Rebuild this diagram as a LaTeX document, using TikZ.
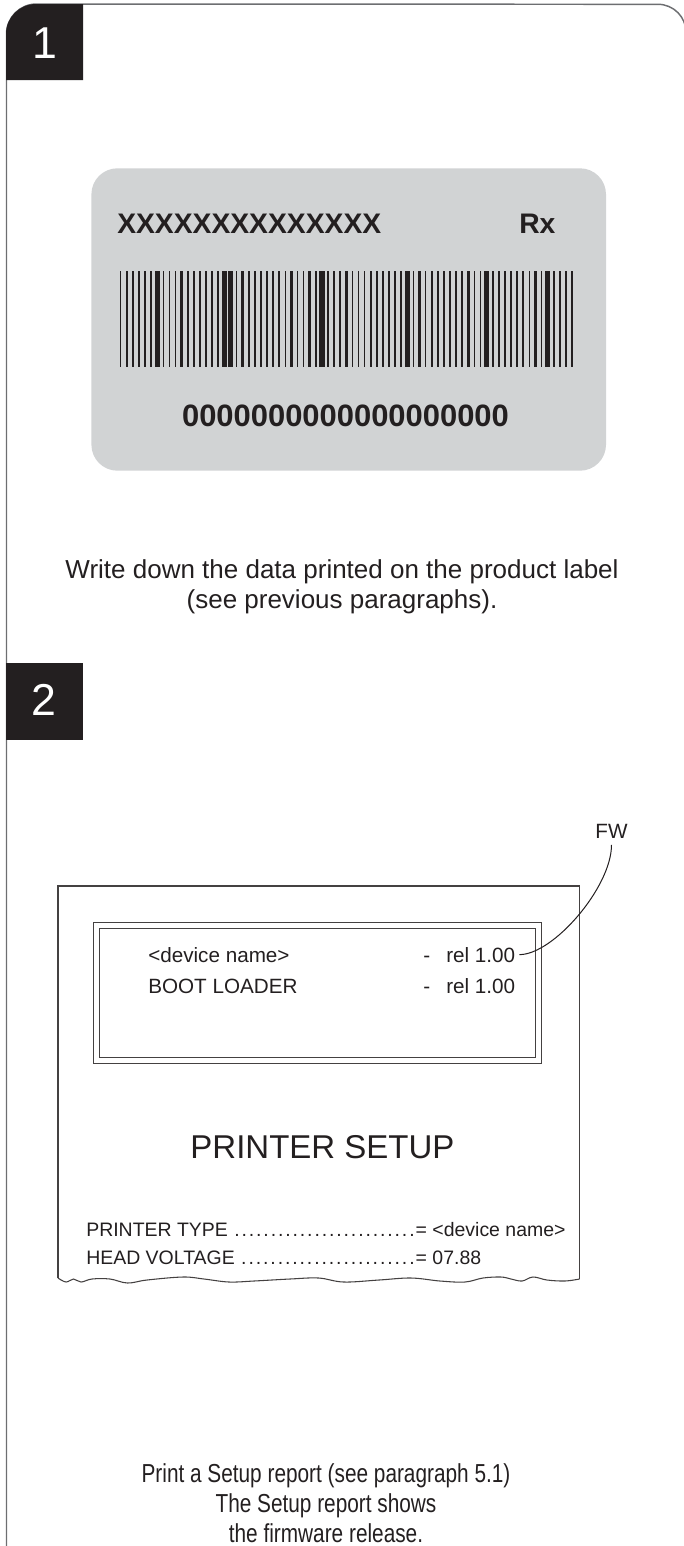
\documentclass[tikz,border=0pt]{standalone}
\usepackage{fontspec}
\setmainfont{Liberation Sans}
\newfontfamily\narrowsans[FakeStretch=0.8]{Liberation Sans}
\usetikzlibrary{positioning}

\definecolor{inkdark}{HTML}{231F20}
\definecolor{labelgray}{HTML}{D1D3D4}
\definecolor{framegray}{HTML}{6D6E71}

\newcommand{\dotlead}{\xleaders\hbox to 0.37em{\hss.\hss}\hfill}
\newcommand{\setuprow}[2]{\makebox[247pt][l]{#1 \dotlead}= #2}

\begin{document}
\begin{tikzpicture}[x=0.75pt, y=-0.75pt,
    badge/.style={fill=inkdark},
    num/.style={text=white, inner sep=0pt, font=\fontsize{33.5}{36}\selectfont},
    crd/.style={text=inkdark, inner sep=0pt, font=\bfseries\fontsize{21.2}{24}\selectfont},
    crdnum/.style={text=inkdark, inner sep=0pt, font=\bfseries\fontsize{23.2}{26}\selectfont},
    txt/.style={text=inkdark, inner sep=0pt, align=center, font=\fontsize{19.5}{22.5}\selectfont},
    rep/.style={text=inkdark, inner sep=0pt, font=\fontsize{15.5}{18}\selectfont},
    row/.style={text=inkdark, inner sep=0pt, font=\fontsize{14.6}{17}\selectfont},
    sheet/.style={draw=inkdark!85, line width=0.8pt},
    lead/.style={draw=inkdark, line width=0.75pt}
]
\useasboundingbox (0,0) rectangle (684,1546);

% outer frame, runs off the page on the right and at the bottom
\begin{scope}
\clip (0,0) rectangle (684,1546);
\draw[draw=framegray, line width=1.1pt] (6.5,1600) -- (6.5,34) arc[start angle=180, end angle=270, radius=30]
    -- (658,4.3) arc[start angle=270, end angle=360, radius=28] -- (686,1600);
\end{scope}

% step badges
\fill[badge] (6,80) -- (6,34) arc[start angle=180, end angle=270, radius=30] -- (83,4) -- (83,80) -- cycle;
\node[num] (numone) at (45,43) {1};
\fill[badge] (6,663) rectangle (83,740);
\node[num] (numtwo) at (43.5,699.5) {2};

% product label
\fill[labelgray, rounded corners=19.5pt] (91.4,168.3) rectangle (606,470.7);
\node[crd, anchor=base west] (serial) at (117,233.3) {XXXXXXXXXXXXXX};
\node[crd, anchor=base west] (rev) at (519,233.3) {Rx};
\foreach \w [count=\i from 0] in {1,1,1,1,1,2,3,1,1,1,2,1,1,1,1,
                                  2,1,3,3,1,2,1,1,1,2,1,1,1,2,1,
                                  1,2,1,3,1,1,1,2,1,1,1,1,2,1,1,
                                  2,1,3,1,2,1,1,1,2,1,1,1,2,1,1,
                                  3,1,1,2,1,1,1,1,2,1,3,1,2,1,1} {
    \pgfmathsetmacro{\bw}{\w==3 ? 5.4 : (\w==2 ? 2.6 : 1.6)}
    \fill[inkdark] (120.6+\i*6.1-\bw/2,271) rectangle ++(\bw,95.7);
}
\node[crdnum, anchor=base] (code) at (345.5,426.7) {0000000000000000000};

\node[txt, anchor=north] (noteone) at (342,559) {Write down the data printed on the product label\\(see previous paragraphs).};

% setup report sheet
\draw[sheet] (58,1278) -- (58,886) -- (579.5,886) -- (579.5,1279);
\draw[sheet] plot[smooth, tension=0.6] coordinates {(58,1278) (66,1282) (73.5,1279) (81,1282)
    (92,1279) (110,1279) (127.5,1283) (147,1280) (183,1277) (204,1279) (229,1282) (254,1281)
    (290,1279) (318.6,1278) (343.6,1282) (379,1280) (411,1278) (440,1281) (465,1282) (483,1278)
    (501,1277) (511,1279) (522,1281) (533,1277) (547,1280) (565,1281) (579.5,1279)};
\draw[sheet, line width=0.6pt] (93,922.5) rectangle (541.5,1063);
\draw[sheet, line width=0.6pt] (99,928.5) rectangle (535.5,1057);

\node[rep, anchor=base west] (devname) at (148,962) {<device name>};
\node[rep, anchor=base west] (dashone) at (423,962) {-};
\node[rep, anchor=base west] (relfw) at (446,962) {rel 1.00};
\node[rep, anchor=base west] (bootldr) at (148,993) {BOOT LOADER};
\node[rep, anchor=base west] (dashtwo) at (423,993) {-};
\node[rep, anchor=base west] (relboot) at (446,993) {rel 1.00};

\node[rep, inner sep=5pt, anchor=base] (fwtag) at (611.5,838) {FW};
\draw[lead, shorten <=3pt] (relfw.east) .. controls +(38,0) and +(0,42) .. (fwtag.south);

\node[text=inkdark, inner sep=0pt, anchor=base, font=\fontsize{24.75}{28}\selectfont] (setuphead) at (322.5,1158) {PRINTER SETUP};
\node[row, anchor=base west] (ptype) at (86,1236.7) {\setuprow{PRINTER TYPE}{<device name>}};
\node[row, anchor=base west] (hvolt) at (86,1264) {\setuprow{HEAD VOLTAGE}{07.88}};

\node[txt, font=\narrowsans\fontsize{19.5}{22.5}\selectfont, anchor=north] (notetwo) at (326,1463) {Print a Setup report (see paragraph 5.1)\\The Setup report shows\\the firmware release.};
\end{tikzpicture}
\end{document}
